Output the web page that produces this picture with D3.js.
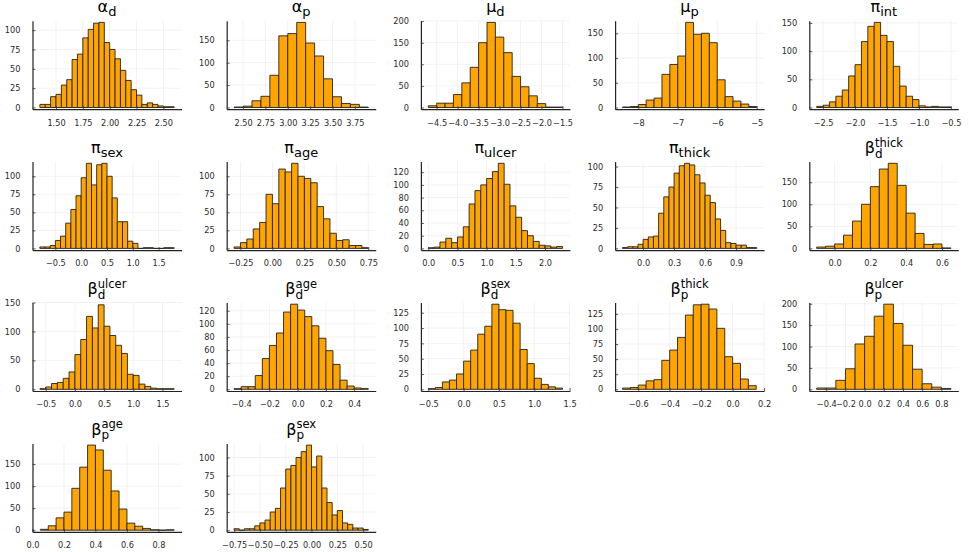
<!DOCTYPE html>
<html>
<head>
<meta charset="utf-8">
<script src="https://cdn.jsdelivr.net/npm/d3@7"></script>
<style>
  body { margin: 0; background: #fff; }
  svg text { font-family: "DejaVu Sans", sans-serif; }
</style>
</head>
<body>
<script>
// titles: [main, subscript, superscript]
var titles = [
  ["α", "d", ""], ["α", "p", ""], ["μ", "d", ""], ["μ", "p", ""], ["π", "int", ""],
  ["π", "sex", ""], ["π", "age", ""], ["π", "ulcer", ""], ["π", "thick", ""], ["β", "d", "thick"],
  ["β", "d", "ulcer"], ["β", "d", "age"], ["β", "d", "sex"], ["β", "p", "thick"], ["β", "p", "ulcer"],
  ["β", "p", "age"], ["β", "p", "sex"]
];

// first bin edge and bin width of each histogram
var binStart = [1.35, 2.4, -4.7, -8.4, -2.6, -0.8, -0.3, 0.0, -0.2, -0.1, -0.6, -0.45, -0.5, -0.7, -0.5, 0.05, -0.75];
var binWidth = [0.05, 0.1, 0.2, 0.2, 0.1, 0.1, 0.05, 0.1, 0.05, 0.05, 0.1, 0.05, 0.1, 0.05, 0.1, 0.05, 0.05];

// counts per bin
var alphaD = [4,4,14,17,29,36,62,69,90,101,109,110,84,75,63,48,35,23,16,4,6,4,2,1,1];
var alphaP = [1,3,15,25,72,160,165,190,144,115,64,24,9,7,1];
var muD = [4,10,10,30,57,93,150,197,163,127,72,48,27,9,1,1];
var muP = [1,2,6,15,19,67,87,104,172,148,150,131,56,22,13,7,2];
var piInt = [2,4,10,20,31,56,76,117,144,151,128,117,73,38,20,14,3,1,2,1,1];
var piSex = [2,2,4,11,17,35,54,73,98,118,88,116,118,100,70,37,37,10,7,0,1,1,0,0,1,1];
var piAge = [2,8,13,27,36,75,62,110,106,118,100,97,91,58,41,21,11,12,4,4,1];
var piUlcer = [1,2,10,16,9,18,34,70,91,100,110,121,134,101,67,49,28,20,11,5,4,2,3];
var piThick = [1,2,2,5,11,14,15,43,63,75,92,101,104,102,90,80,65,56,36,22,7,6,4,4,1,1];
var betaDThick = [3,5,10,30,62,100,140,180,193,143,80,34,9,10,1];
var betaDUlcer = [1,4,10,12,19,30,60,86,126,106,146,109,93,76,62,26,24,9,5,2,1,1,1];
var betaDAge = [1,4,4,21,47,67,86,118,130,121,111,97,78,59,38,14,5,2,1];
var betaDSex = [1,3,12,15,25,46,64,90,103,139,130,129,108,65,42,18,8,4,2];
var betaPThick = [2,3,7,14,16,48,65,86,123,140,141,133,101,54,43,17,6];
var betaPUlcer = [3,3,21,48,106,124,171,199,154,103,47,13,5,2];
var betaPAge = [2,10,28,41,95,143,193,182,136,89,48,16,9,4,1,0,1];
var betaPSex = [2,0,2,2,6,10,14,25,30,58,84,89,100,108,117,87,102,58,38,21,27,10,8,3,3,1];

var counts = [alphaD, alphaP, muD, muP, piInt, piSex, piAge, piUlcer, piThick, betaDThick,
  betaDUlcer, betaDAge, betaDSex, betaPThick, betaPUlcer, betaPAge, betaPSex];

// tick values
var xTicks = [
  [1.5,1.75,2,2.25,2.5], [2.5,2.75,3,3.25,3.5,3.75], [-4.5,-4,-3.5,-3,-2.5,-2,-1.5], [-8,-7,-6,-5], [-2.5,-2,-1.5,-1,-0.5],
  [-0.5,0,0.5,1,1.5], [-0.25,0,0.25,0.5,0.75], [0,0.5,1,1.5,2], [0,0.3,0.6,0.9], [0,0.2,0.4,0.6],
  [-0.5,0,0.5,1,1.5], [-0.4,-0.2,0,0.2,0.4], [-0.5,0,0.5,1,1.5], [-0.6,-0.4,-0.2,0,0.2], [-0.4,-0.2,0,0.2,0.4,0.6,0.8],
  [0,0.2,0.4,0.6,0.8], [-0.75,-0.5,-0.25,0,0.25,0.5]
];
var xDecimals = [2,2,1,0,1, 1,2,1,1,1, 1,1,1,1,1, 1,2];
var yTicks = [
  [0,25,50,75,100], [0,50,100,150], [0,50,100,150,200], [0,50,100,150], [0,50,100,150],
  [0,25,50,75,100], [0,25,50,75,100], [0,20,40,60,80,100,120], [0,25,50,75,100], [0,50,100,150],
  [0,50,100,150], [0,20,40,60,80,100,120], [0,25,50,75,100,125], [0,25,50,75,100,125], [0,50,100,150,200],
  [0,50,100,150], [0,25,50,75,100]
];

var W = 969, H = 552;
var colStep = 194.2, rowStep = 140.9;
var left0 = 32.5, top0 = 20.7, plotW = 149, plotH = 88.5;

var svg = d3.select('body').append('svg')
  .attr('width', W)
  .attr('height', H)
  .style('background', '#fff');

counts.forEach(function(c, i){
  var col = i % 5, row = Math.floor(i / 5);
  var x0 = left0 + col * colStep, y0 = top0 + row * rowStep;
  var start = binStart[i], w = binWidth[i];
  var end = start + c.length * w;
  var pad = 0.055 * (end - start);
  var xt = xTicks[i], yt = yTicks[i];
  var M = d3.max(c);

  var x = d3.scaleLinear()
    .domain([Math.min(start - pad, xt[0]), Math.max(end + pad, xt[xt.length - 1])])
    .range([x0, x0 + plotW]);
  var y = d3.scaleLinear()
    .domain([-0.02 * M, Math.max(1.02 * M, yt[yt.length - 1])])
    .range([y0 + plotH, y0]);

  var g = svg.append('g');

  // grid
  g.selectAll('.gx').data(xt).enter().append('line')
    .attr('x1', function(d){ return x(d); }).attr('x2', function(d){ return x(d); })
    .attr('y1', y0).attr('y2', y0 + plotH)
    .attr('stroke', '#000').attr('stroke-opacity', 0.1).attr('stroke-width', 0.5);
  g.selectAll('.gy').data(yt).enter().append('line')
    .attr('y1', function(d){ return y(d); }).attr('y2', function(d){ return y(d); })
    .attr('x1', x0).attr('x2', x0 + plotW)
    .attr('stroke', '#000').attr('stroke-opacity', 0.1).attr('stroke-width', 0.5);

  // bars
  g.selectAll('.bar').data(c).enter().append('path')
    .attr('d', function(d, j){
      var a = x(start + j * w), b = x(start + (j + 1) * w);
      return 'M' + a + ',' + y(0) + 'V' + y(d) + 'H' + b + 'V' + y(0) + 'Z';
    })
    .attr('fill', '#FFA500')
    .attr('stroke', '#222')
    .attr('stroke-width', 0.9);

  // axes
  var fmt = d3.format('.' + xDecimals[i] + 'f');
  var gx = g.append('g')
    .attr('transform', 'translate(0,' + (y0 + plotH) + ')')
    .call(d3.axisBottom(x).tickValues(xt).tickFormat(fmt).tickSizeInner(-3).tickSizeOuter(0).tickPadding(10.5));
  var gy = g.append('g')
    .attr('transform', 'translate(' + x0 + ',0)')
    .call(d3.axisLeft(y).tickValues(yt).tickFormat(d3.format('d')).tickSizeInner(-3).tickSizeOuter(0).tickPadding(12));
  [gx, gy].forEach(function(a){
    a.select('.domain').attr('stroke', '#222').attr('stroke-width', 1.2);
    a.selectAll('.tick line').attr('stroke', '#333').attr('stroke-width', 0.8);
    a.selectAll('.tick text').attr('fill', '#2a2a2a').attr('font-size', 8.2)
      .style('font-family', '"DejaVu Sans", sans-serif');
  });

  // title
  var t = titles[i];
  var both = !!t[2];
  var tg = g.append('g');
  var m = tg.append('text').attr('font-size', 16).attr('fill', '#000').text(t[0]);
  var mw = m.node().getComputedTextLength();
  var w2 = 0;
  if (t[1]) {
    var s = tg.append('text').attr('x', mw).attr('y', both ? 4.5 : 3.5)
      .attr('font-size', both ? 12 : 13).attr('fill', '#000').text(t[1]);
    w2 = Math.max(w2, s.node().getComputedTextLength());
  }
  if (both) {
    var p = tg.append('text').attr('x', mw).attr('y', -6.5).attr('font-size', 11.5).attr('fill', '#000').text(t[2]);
    w2 = Math.max(w2, p.node().getComputedTextLength());
  }
  tg.attr('transform', 'translate(' + (x0 + plotW / 2 - (mw + w2) / 2) + ',' + (y0 - 8.5) + ')');
});
</script>
</body>
</html>
